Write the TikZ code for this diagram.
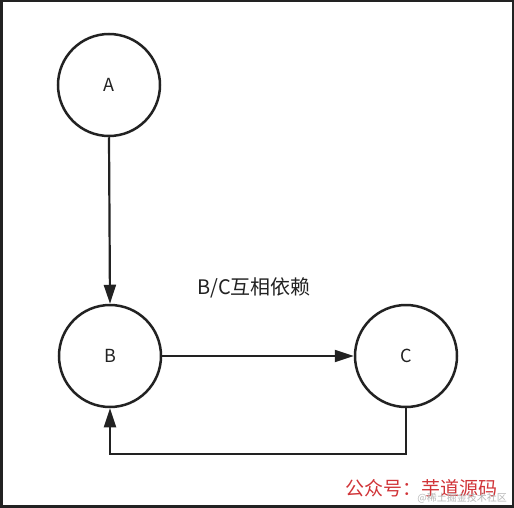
\documentclass[tikz,border=0pt]{standalone}
\usepackage{fontspec}
\setmainfont{Noto Sans CJK SC}
\usetikzlibrary{arrows.meta}
\definecolor{ink}{HTML}{222222}
\definecolor{wmred}{HTML}{D13438}
\definecolor{wmgray}{HTML}{B8B8B8}
\tikzset{
  state/.style={circle, draw=ink, line width=2.5pt, minimum size=102pt, inner sep=0pt, font=\fontsize{18}{20}\selectfont, text=ink},
  conn/.style={draw=ink, line width=2.2pt, -{Triangle[length=19pt,width=12pt]}},
  edgeline/.style={fill=ink, draw=none}
}
\begin{document}
\begin{tikzpicture}[x=1pt,y=-1pt]
\useasboundingbox (0,0) rectangle (514,508);
\fill[white] (0,0) rectangle (514,508);
% border
\path[edgeline] (0,0) rectangle (3,508);
\path[edgeline] (0,0) rectangle (514,2);
\path[edgeline] (512,0) rectangle (514,508);
\path[edgeline] (0,505) rectangle (514,508);
% nodes
\node[state] (A) at (109,85) {A};
\node[state] (B) at (110,356) {B};
\node[state] (C) at (406,356) {C};
\node[font=\fontsize{20}{22}\selectfont, text=ink] (lbl) at (254,288) {B/C互相依赖};
% connectors
\coordinate (c1) at (406,454);
\coordinate (b1) at (110,454);
\draw[conn] (A.south) -- (B.north);
\draw[conn] (B.east) -- (C.west);
\draw[conn, line join=miter] (C.south) -- (c1) -- (b1) -- (B.south);
% watermark
\node[font=\fontsize{19}{21}\selectfont, text=wmred, anchor=west, inner sep=0pt] (wm) at (345,488) {公众号：芋道源码};
\node[font=\fontsize{10}{12}\selectfont, text=wmgray, anchor=east, inner sep=0pt] (wm2) at (507,498) {@稀土掘金技术社区};
\end{tikzpicture}
\end{document}
